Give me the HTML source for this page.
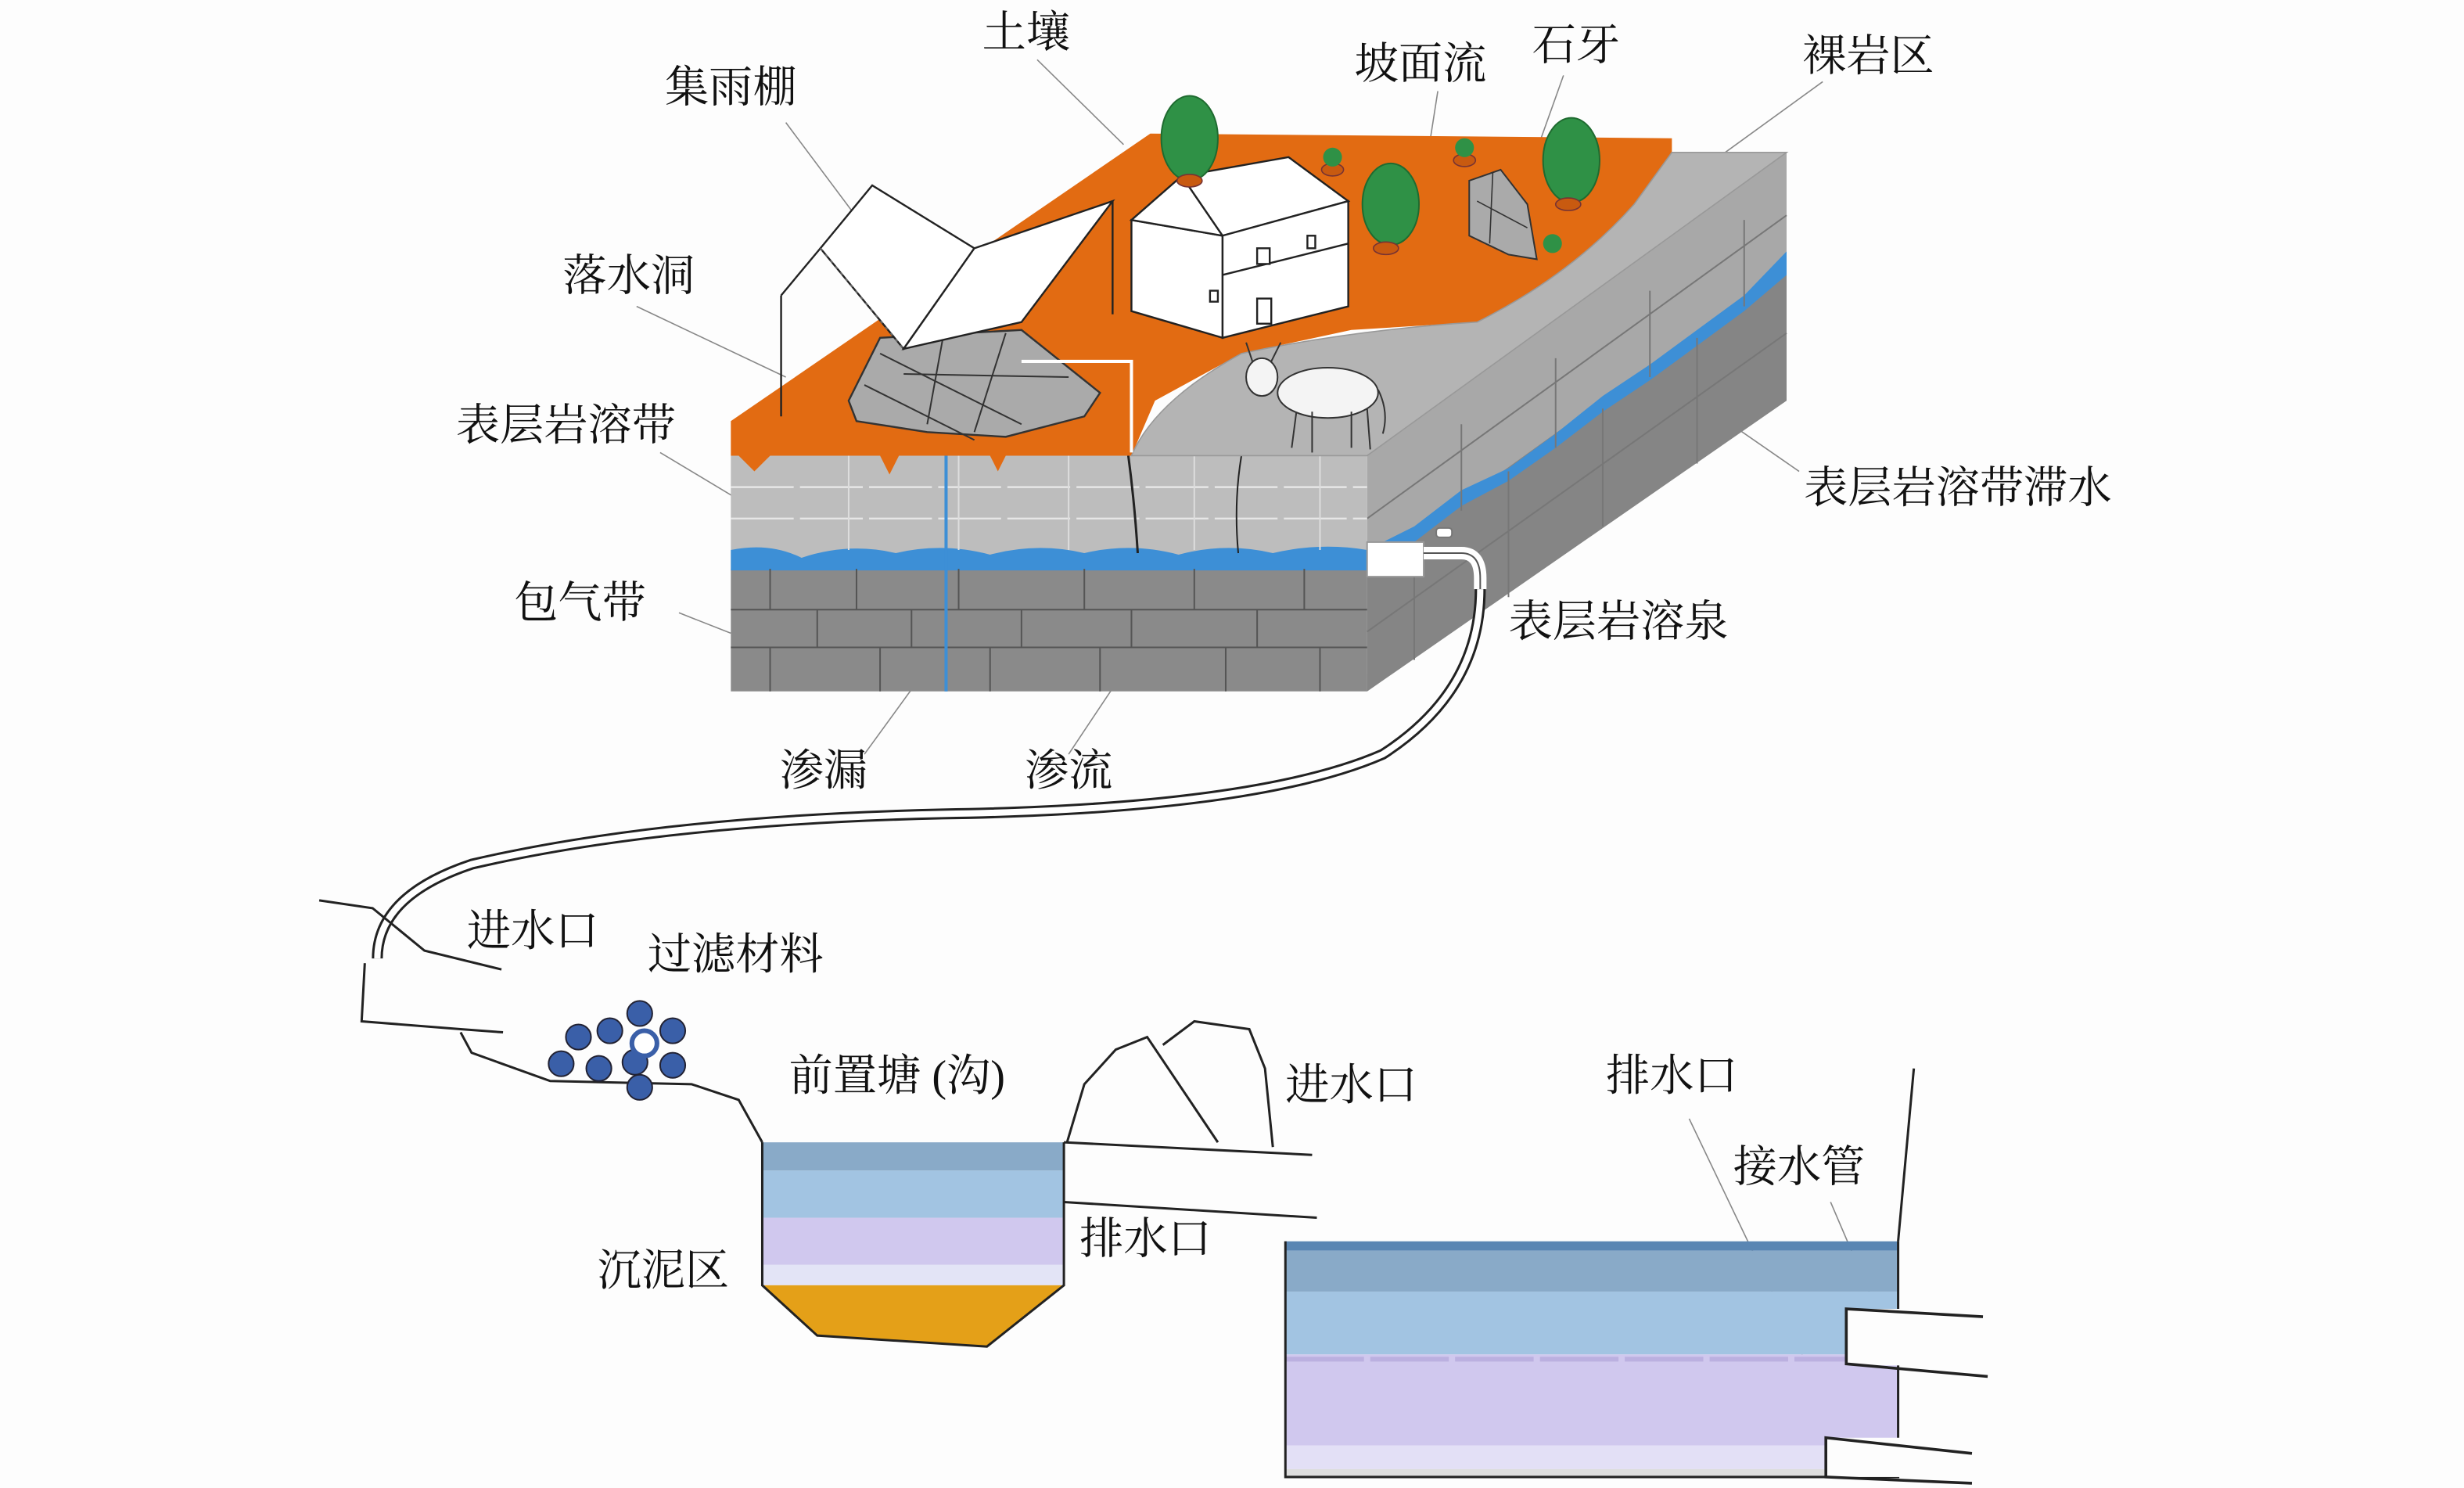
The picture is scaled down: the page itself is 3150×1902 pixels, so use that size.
<!DOCTYPE html>
<html><head><meta charset="utf-8"><style>
html,body{margin:0;padding:0;background:#fdfdfd;}
svg{display:block;}
text{font-family:"Liberation Serif","Noto Serif CJK SC","Noto Sans CJK SC",serif;font-size:28px;fill:#111;}
</style></head><body>
<svg width="3150" height="1902" viewBox="0 0 1568 947" xmlns="http://www.w3.org/2000/svg">
<rect width="1568" height="947" fill="#fdfdfd"/>
<g stroke="#888" stroke-width="0.8" fill="none">
<line x1="660" y1="38" x2="715" y2="92"/>
<line x1="500" y1="78" x2="580" y2="185"/>
<line x1="915" y1="58" x2="910" y2="90"/>
<line x1="995" y1="48" x2="980" y2="90"/>
<line x1="1160" y1="52" x2="1080" y2="110"/>
<line x1="405" y1="195" x2="500" y2="240"/>
<line x1="420" y1="288" x2="470" y2="318"/>
<line x1="1145" y1="300" x2="1080" y2="255"/>
<line x1="432" y1="390" x2="465" y2="403"/>
<line x1="550" y1="480" x2="590" y2="425"/>
<line x1="680" y1="480" x2="730" y2="405"/>
<line x1="1075" y1="712" x2="1165" y2="900"/>
<line x1="1165" y1="765" x2="1195" y2="835"/>
</g>
<polygon points="870,290 1137,97 1137,255 870,440" fill="#a8a8a8"/>
<polygon points="870,362 1137,170 1137,255 870,440" fill="#858585"/>
<path d="M870,350 L900,335 L930,312 L960,298 L990,276 L1020,252 L1050,232 L1080,210 L1110,188 L1137,160 L1137,175 L1110,198 L1080,220 L1050,242 L1020,262 L990,285 L960,306 L930,322 L900,345 L870,365 Z" fill="#3d8fd6"/>
<g stroke="#777" stroke-width="1" fill="none">
<line x1="870" y1="402" x2="1137" y2="212"/>
<line x1="900" y1="350" x2="900" y2="420"/><line x1="960" y1="300" x2="960" y2="380"/><line x1="1020" y1="260" x2="1020" y2="335"/><line x1="1080" y1="215" x2="1080" y2="295"/>
<line x1="930" y1="270" x2="930" y2="325"/><line x1="990" y1="228" x2="990" y2="285"/><line x1="1050" y1="185" x2="1050" y2="240"/><line x1="1110" y1="140" x2="1110" y2="195"/>
<line x1="870" y1="330" x2="1137" y2="137"/>
</g>
<rect x="465" y="290" width="405" height="72" fill="#bdbdbd"/>
<rect x="465" y="362" width="405" height="78" fill="#8a8a8a"/>
<path d="M465,350 Q490,345 510,355 Q540,345 570,352 Q600,345 630,353 Q660,345 690,352 Q720,345 750,353 Q780,345 810,352 Q840,345 870,350 L870,363 L465,363 Z" fill="#3d8fd6"/>
<g stroke="#e6e6e6" stroke-width="1.2" fill="none" stroke-dasharray="40 4">
<line x1="465" y1="310" x2="870" y2="310"/><line x1="465" y1="330" x2="870" y2="330"/>
</g>
<g stroke="#555" stroke-width="1" fill="none">
<line x1="465" y1="388" x2="870" y2="388"/><line x1="465" y1="412" x2="870" y2="412"/>
<line x1="490" y1="362" x2="490" y2="388"/><line x1="545" y1="362" x2="545" y2="388"/><line x1="610" y1="362" x2="610" y2="388"/><line x1="690" y1="362" x2="690" y2="388"/><line x1="760" y1="362" x2="760" y2="388"/><line x1="830" y1="362" x2="830" y2="388"/>
<line x1="520" y1="388" x2="520" y2="412"/><line x1="580" y1="388" x2="580" y2="412"/><line x1="650" y1="388" x2="650" y2="412"/><line x1="720" y1="388" x2="720" y2="412"/><line x1="800" y1="388" x2="800" y2="412"/>
<line x1="490" y1="412" x2="490" y2="440"/><line x1="560" y1="412" x2="560" y2="440"/><line x1="630" y1="412" x2="630" y2="440"/><line x1="700" y1="412" x2="700" y2="440"/><line x1="780" y1="412" x2="780" y2="440"/><line x1="840" y1="412" x2="840" y2="440"/>
</g>
<g stroke="#ddd" stroke-width="1"><line x1="540" y1="290" x2="540" y2="350"/><line x1="610" y1="290" x2="610" y2="350"/><line x1="680" y1="290" x2="680" y2="350"/><line x1="760" y1="290" x2="760" y2="350"/><line x1="840" y1="290" x2="840" y2="350"/></g>
<line x1="602" y1="290" x2="602" y2="440" stroke="#3d8fd6" stroke-width="2"/>
<path d="M718,290 Q722,320 724,352" stroke="#222" stroke-width="1.5" fill="none"/>
<path d="M790,290 Q785,320 788,352" stroke="#222" stroke-width="1" fill="none"/>
<polygon points="465,268 732,85 1064,88 1064,97 1040,130 1000,175 940,205 860,210 790,225 735,255 720,290 465,290" fill="#e26b12"/>
<path d="M1064,97 L1137,97 L870,290 L720,290 Q735,255 790,225 Q860,210 940,205 Q1000,175 1040,130 Z" fill="#b4b4b4" stroke="#999" stroke-width="0.8"/>
<path d="M470,290 L480,300 L490,290 M560,290 L566,302 L572,290 M630,290 L635,300 L640,290" fill="#e26b12"/>
<polygon points="540,255 560,215 650,210 700,250 690,265 640,278 590,275 545,268" fill="#aaa" stroke="#333" stroke-width="1.2"/>
<g stroke="#333" stroke-width="1"><line x1="560" y1="225" x2="650" y2="270"/><line x1="550" y1="245" x2="620" y2="280"/><line x1="600" y1="215" x2="590" y2="270"/><line x1="640" y1="212" x2="620" y2="275"/><line x1="575" y1="238" x2="680" y2="240"/></g>
<polygon points="935,115 955,108 972,130 978,165 960,162 935,150" fill="#aaa" stroke="#333" stroke-width="1"/>
<g stroke="#333" stroke-width="0.8"><line x1="940" y1="128" x2="972" y2="145"/><line x1="950" y1="110" x2="948" y2="155"/></g>
<g stroke="#222" stroke-width="1.2" fill="#fff">
<polygon points="522,158 555,118 620,158 575,222"/>
<polygon points="575,222 620,158 708,128 650,205"/>
<line x1="497" y1="188" x2="522" y2="158"/>
<line x1="497" y1="188" x2="497" y2="265"/><line x1="708" y1="128" x2="708" y2="200"/>
</g>
<line x1="522" y1="158" x2="575" y2="222" stroke="#666" stroke-dasharray="2 3"/>
<polyline points="650,230 720,230 720,288" stroke="#fff" stroke-width="2" fill="none"/>
<g stroke="#222" stroke-width="1.2" fill="#fff">
<polygon points="720,140 778,150 778,215 720,198"/>
<polygon points="720,140 752,112 778,150"/>
<polygon points="752,112 820,100 858,128 778,150"/>
<polygon points="778,150 858,128 858,195 778,215"/>
<line x1="778" y1="175" x2="858" y2="155"/>
<rect x="800" y="158" width="8" height="10"/><rect x="800" y="190" width="9" height="16"/><rect x="832" y="150" width="5" height="8"/><rect x="770" y="185" width="5" height="7"/>
</g>
<g fill="#2f9146" stroke="#1f6b30" stroke-width="1">
<ellipse cx="757" cy="88" rx="18" ry="27"/><ellipse cx="885" cy="130" rx="18" ry="26"/><ellipse cx="1000" cy="102" rx="18" ry="27"/>
</g>
<g fill="#c85a10" stroke="#733" stroke-width="0.8"><ellipse cx="757" cy="115" rx="8" ry="4"/><ellipse cx="882" cy="158" rx="8" ry="4"/><ellipse cx="998" cy="130" rx="8" ry="4"/><ellipse cx="848" cy="108" rx="7" ry="4"/><ellipse cx="932" cy="102" rx="7" ry="4"/></g>
<g fill="#2f9146"><circle cx="848" cy="100" r="6"/><circle cx="932" cy="94" r="6"/><circle cx="988" cy="155" r="6"/></g>
<g fill="#f4f4f4" stroke="#333" stroke-width="1">
<ellipse cx="845" cy="250" rx="32" ry="16"/><ellipse cx="803" cy="240" rx="10" ry="12"/>
<line x1="825" y1="262" x2="822" y2="285"/><line x1="835" y1="262" x2="835" y2="288"/><line x1="860" y1="262" x2="860" y2="285"/><line x1="870" y1="260" x2="872" y2="286"/>
<path d="M797,230 L793,218 M809,230 L815,218" fill="none"/>
<path d="M877,248 Q884,262 880,276" fill="none"/>
</g>
<rect x="870" y="345" width="36" height="22" fill="#fff" stroke="#999"/>
<path d="M906,352 L930,352 Q942,352 942,368 L942,375" stroke="#fff" stroke-width="8" fill="none"/>
<path d="M906,352 L930,352 Q942,352 942,368 L942,375" stroke="#555" stroke-width="1" fill="none"/>
<rect x="914" y="336" width="10" height="6" rx="2" fill="#fff" stroke="#777"/>
<path d="M942,375 Q942,440 880,480 Q800,515 600,518 Q420,522 300,550 Q240,570 240,610" stroke="#222" stroke-width="7" fill="none"/>
<path d="M942,375 Q942,440 880,480 Q800,515 600,518 Q420,522 300,550 Q240,570 240,610" stroke="#fff" stroke-width="4" fill="none"/>
<g stroke="#222" stroke-width="1.5" fill="none">
<polyline points="203,573 237,578 270,605 319,617"/>
<polyline points="232,613 230,650 293,655 320,657"/>
<polyline points="293,657 300,670 350,688 440,690 470,700 485,727"/>
</g>
<g fill="#3a5fa8" stroke="#223" stroke-width="1">
<circle cx="368" cy="660" r="8"/><circle cx="388" cy="656" r="8"/><circle cx="407" cy="645" r="8"/><circle cx="428" cy="656" r="8"/><circle cx="357" cy="677" r="8"/><circle cx="381" cy="680" r="8"/><circle cx="404" cy="676" r="8"/><circle cx="428" cy="678" r="8"/><circle cx="407" cy="692" r="8"/><circle cx="410" cy="664" r="8" fill="#fff" stroke="#3a5fa8" stroke-width="3"/>
</g>
<rect x="485" y="727" width="192" height="18" fill="#89aac8"/>
<rect x="485" y="745" width="192" height="30" fill="#a2c4e2"/>
<rect x="485" y="775" width="192" height="30" fill="#d0c8ee"/>
<rect x="485" y="805" width="192" height="13" fill="#e3e4f6"/>
<polygon points="485,818 677,818 628,857 520,850" fill="#e4a018"/>
<polyline points="485,727 485,818 520,850 628,857 677,818 677,727" stroke="#222" stroke-width="1.5" fill="none"/>
<g stroke="#222" stroke-width="1.5" fill="none">
<polyline points="679,727 690,690 710,668 730,660 775,727"/>
<polyline points="740,665 760,650 795,655 805,680 810,730"/>
<line x1="677" y1="727" x2="835" y2="735"/>
<line x1="677" y1="765" x2="838" y2="775"/>
<line x1="1218" y1="680" x2="1208" y2="790"/>
</g>
<rect x="818" y="790" width="390" height="6" fill="#5a86b3"/>
<rect x="818" y="796" width="390" height="26" fill="#89aac8"/>
<rect x="818" y="822" width="390" height="40" fill="#a2c4e2"/>
<rect x="818" y="862" width="390" height="58" fill="#d0c8ee"/>
<rect x="818" y="920" width="390" height="15" fill="#e3e0f6"/>
<rect x="818" y="935" width="390" height="5" fill="#ddd"/>
<line x1="818" y1="865" x2="1208" y2="865" stroke="#bbb0e0" stroke-width="3" stroke-dasharray="50 4"/>
<polyline points="818,790 818,940 1208,940 1208,790" stroke="#222" stroke-width="1.5" fill="none"/>
<rect x="1175" y="833" width="34" height="36" fill="#fdfdfd"/>
<rect x="1162" y="915" width="47" height="25" fill="#fdfdfd"/>
<g stroke="#222" stroke-width="1.8" fill="none">
<polyline points="1262,838 1175,833 1175,868 1265,876"/>
<polyline points="1255,925 1162,915 1162,940 1255,944"/>
</g>
<text x="625" y="30">土壤</text>
<text x="423" y="65">集雨棚</text>
<text x="862" y="50">坡面流</text>
<text x="975" y="38">石牙</text>
<text x="1147" y="45">裸岩区</text>
<text x="358" y="185">落水洞</text>
<text x="290" y="280">表层岩溶带</text>
<text x="1148" y="320">表层岩溶带滞水</text>
<text x="327" y="393">包气带</text>
<text x="960" y="405">表层岩溶泉</text>
<text x="496" y="500">渗漏</text>
<text x="652" y="500">渗流</text>
<text x="297" y="602">进水口</text>
<text x="412" y="617">过滤材料</text>
<text x="502" y="694">前置塘 (沟)</text>
<text x="818" y="700">进水口</text>
<text x="1022" y="694">排水口</text>
<text x="1103" y="752">接水管</text>
<text x="687" y="798">排水口</text>
<text x="380" y="818">沉泥区</text>
</svg>
</body></html>
